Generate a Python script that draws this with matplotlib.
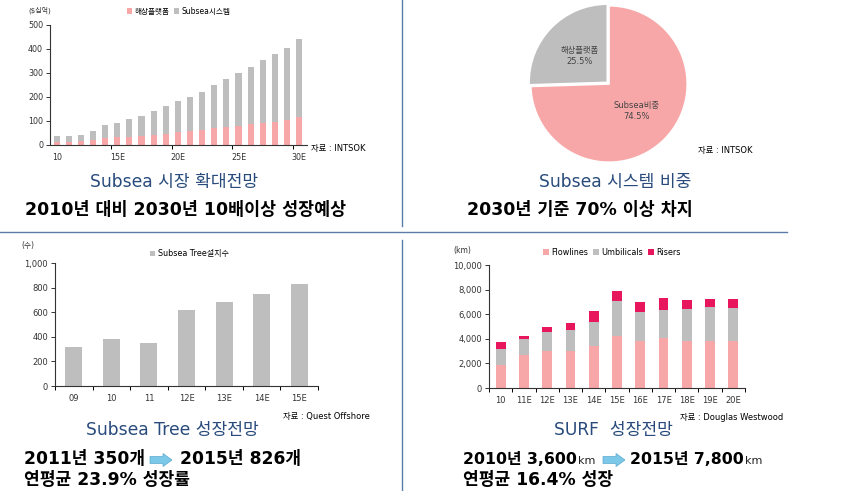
import matplotlib
matplotlib.use("Agg")
import matplotlib.pyplot as plt
from matplotlib.patches import FancyArrow
import numpy as np

plt.rcParams['font.family'] = ['DejaVu Sans', 'Noto Sans CJK KR']

W, H = 862, 491

# --- chart 1: Subsea market outlook ($bn) ---
years1 = ['10', '11', '12', '13', '14', '15E', '16', '17', '18', '19', '20E', '21', '22', '23', '24',
          '25E', '26', '27', '28', '29', '30E']
platform = [11, 12, 15, 21, 28, 32, 35, 37, 42, 44, 55, 58, 61, 69, 75, 79, 86, 93, 97, 104, 118]
total1 = [37, 37, 43, 57, 82, 90, 110, 121, 140, 161, 185, 201, 221, 249, 275, 300, 326, 353, 379, 404, 440]
subsea_sys = [t - p for t, p in zip(total1, platform)]

# --- chart 2: share in 2030 ---
pie_labels = ['해상플랫폼\n25.5%', 'Subsea비중\n74.5%']
pie_values = [25.5, 74.5]

# --- chart 3: Subsea tree installations ---
years3 = ['09', '10', '11', '12E', '13E', '14E', '15E']
trees = [318, 380, 350, 620, 683, 745, 826]

# --- chart 4: SURF (km) ---
years4 = ['10', '11E', '12E', '13E', '14E', '15E', '16E', '17E', '18E', '19E', '20E']
flowlines = [1890, 2700, 2970, 2970, 3430, 4240, 3840, 4050, 3840, 3840, 3840]
umb_top = [3190, 3970, 4590, 4680, 5380, 7110, 6190, 6350, 6460, 6620, 6540]
total4 = [3730, 4190, 4920, 5270, 6270, 7860, 6970, 7300, 7160, 7220, 7220]
umbilicals = [u - f for u, f in zip(umb_top, flowlines)]
risers = [t - u for t, u in zip(total4, umb_top)]

PINK = '#F8A7A8'
GREY = '#BEBEBE'
RED = '#E8175D'
NAVY = '#284B7C'
LINE = '#5B7BA8'

fig = plt.figure(figsize=(W / 100, H / 100), dpi=100)
fig.patch.set_facecolor('white')


def rect(x0, y0, x1, y1):
    return [x0 / W, 1 - y1 / H, (x1 - x0) / W, (y1 - y0) / H]


def txt(x, y, s, **kw):
    return fig.text(x / W, 1 - y / H, s, **kw)


def style(ax, fs=6):
    for side in ['top', 'right']:
        ax.spines[side].set_visible(False)
    for side in ['left', 'bottom']:
        ax.spines[side].set_color('#333333')
        ax.spines[side].set_linewidth(0.8)
    ax.tick_params(axis='y', labelsize=fs, length=3, width=0.7, pad=2, colors='#333333')
    ax.tick_params(axis='x', which='minor', length=3, width=0.7, direction='out')
    ax.tick_params(axis='x', which='major', labelsize=fs, length=0, pad=6, colors='#333333')


# chart 1
ax1 = fig.add_axes(rect(50, 25, 307, 145))
x1 = np.arange(len(years1))
ax1.bar(x1, platform, width=0.5, color=PINK, label='해상플랫폼')
ax1.bar(x1, subsea_sys, width=0.5, bottom=platform, color=GREY, label='Subsea시스템')
ax1.set_ylim(0, 500)
ax1.set_yticks(range(0, 501, 100))
ax1.set_xlim(-0.55, 20.65)
ax1.set_xticks(x1[::5])
ax1.set_xticklabels(years1[::5])
ax1.set_xticks(np.arange(4.5, 20, 5), minor=True)
style(ax1, 5.8)
ax1.legend(loc='upper center', bbox_to_anchor=(0.5, 1.21), ncol=2, frameon=False, fontsize=5.5,
           handlelength=0.7, handleheight=0.7, handletextpad=0.3, columnspacing=0.6)
txt(28, 10, '($십억)', fontsize=5, color='#333333', va='center')
txt(311, 148, '자료 : INTSOK', fontsize=6, va='center')
txt(174, 182, 'Subsea 시장 확대전망', fontsize=12.3, color=NAVY, ha='center', va='center')
txt(186, 210, '2010년 대비 2030년 10배이상 성장예상', fontsize=12.5, fontweight='bold', ha='center', va='center')

# chart 2
ax2 = fig.add_axes(rect(530, 5, 688, 163))
ax2.pie(pie_values, labels=None, colors=[GREY, PINK], startangle=90, counterclock=True,
        explode=[0.03, 0], radius=1, wedgeprops=dict(edgecolor='white', linewidth=1.2))
ax2.set_xlim(-1.01, 1.01)
ax2.set_ylim(-1.01, 1.01)
txt(580, 56, pie_labels[0], fontsize=6, color='#444444', ha='center', va='center', linespacing=1.4)
txt(637, 111, pie_labels[1], fontsize=6, color='#444444', ha='center', va='center', linespacing=1.4)
txt(698, 150, '자료 : INTSOK', fontsize=6, va='center')
txt(615, 182, 'Subsea 시스템 비중', fontsize=12.3, color=NAVY, ha='center', va='center')
txt(580, 210, '2030년 기준 70% 이상 차지', fontsize=12.5, fontweight='bold', ha='center', va='center')

# chart 3
ax3 = fig.add_axes(rect(55, 263, 318, 386))
x3 = np.arange(len(years3))
ax3.bar(x3, trees, width=0.45, color=GREY, label='Subsea Tree설치수')
ax3.set_ylim(0, 1000)
ax3.set_yticks(range(0, 1001, 200))
ax3.set_yticklabels(['0', '200', '400', '600', '800', '1,000'])
ax3.set_xlim(-0.5, 6.5)
ax3.set_xticks(x3)
ax3.set_xticklabels(years3)
ax3.set_xticks(np.arange(-0.5, 7, 1), minor=True)
style(ax3)
ax3.legend(loc='upper center', bbox_to_anchor=(0.51, 1.17), frameon=False, fontsize=5.8,
           handlelength=0.7, handleheight=0.7, handletextpad=0.3)
txt(28, 245, '(수)', fontsize=5.5, color='#333333', ha='center', va='center')
txt(283, 417, '자료 : Quest Offshore', fontsize=6, va='center')
txt(172, 430, 'Subsea Tree 성장전망', fontsize=12.3, color=NAVY, ha='center', va='center')
txt(24, 459, '2011년 350개', fontsize=12.3, fontweight='bold', va='center')
txt(180, 459, '2015년 826개', fontsize=12.3, fontweight='bold', va='center')
txt(24, 480, '연평균 23.9% 성장률', fontsize=12.3, fontweight='bold', va='center')

# chart 4
ax4 = fig.add_axes(rect(489, 265, 745, 388))
x4 = np.arange(len(years4))
ax4.bar(x4, flowlines, width=0.42, color=PINK, label='Flowlines')
ax4.bar(x4, umbilicals, width=0.42, bottom=flowlines, color=GREY, label='Umbilicals')
ax4.bar(x4, risers, width=0.42, bottom=umb_top, color=RED, label='Risers')
ax4.set_ylim(0, 10000)
ax4.set_yticks(range(0, 10001, 2000))
ax4.set_yticklabels(['0', '2,000', '4,000', '6,000', '8,000', '10,000'])
ax4.set_xlim(-0.5, 10.5)
ax4.set_xticks(x4)
ax4.set_xticklabels(years4)
ax4.set_xticks(np.arange(-0.5, 11, 1), minor=True)
style(ax4)
ax4.legend(loc='upper center', bbox_to_anchor=(0.48, 1.2), ncol=3, frameon=False, fontsize=5.8,
           handlelength=0.7, handleheight=0.7, handletextpad=0.3, columnspacing=0.6)
txt(462, 250, '(km)', fontsize=5.5, color='#333333', ha='center', va='center')
txt(680, 418, '자료 : Douglas Westwood', fontsize=6, va='center')
txt(613, 430, 'SURF  성장전망', fontsize=12.3, color=NAVY, ha='center', va='center')
t_a = txt(463, 460, '2010년 3,600', fontsize=11.3, fontweight='bold', va='center')
t_b = txt(630, 460, '2015년 7,800', fontsize=11.3, fontweight='bold', va='center')
txt(463, 480, '연평균 16.4% 성장', fontsize=12.3, fontweight='bold', va='center')

# unit "km" placed right after the numbers
fig.canvas.draw()
rend = fig.canvas.get_renderer()
for t in [t_a, t_b]:
    bb = t.get_window_extent(rend)
    fig.text(bb.x1 / W + 1.5 / W, 1 - 461 / H, 'km', fontsize=8, color='#222222', va='center',
             family='DejaVu Sans')

# arrows and divider lines
ov = fig.add_axes([0, 0, 1, 1], facecolor='none')
ov.set_xlim(0, W)
ov.set_ylim(H, 0)
ov.axis('off')
for xa in [150, 603]:
    ov.add_patch(FancyArrow(xa, 460, 13, 0, width=7, head_width=13, head_length=9,
                            length_includes_head=False, color='#7CC8E8', ec='#5AA9CF', lw=0.5))
ov.plot([402, 402], [0, 226], color=LINE, lw=1)
ov.plot([402, 402], [240, 491], color=LINE, lw=1)
ov.plot([0, 787], [232, 232], color=LINE, lw=1)

fig.savefig('out.png', dpi=100)
